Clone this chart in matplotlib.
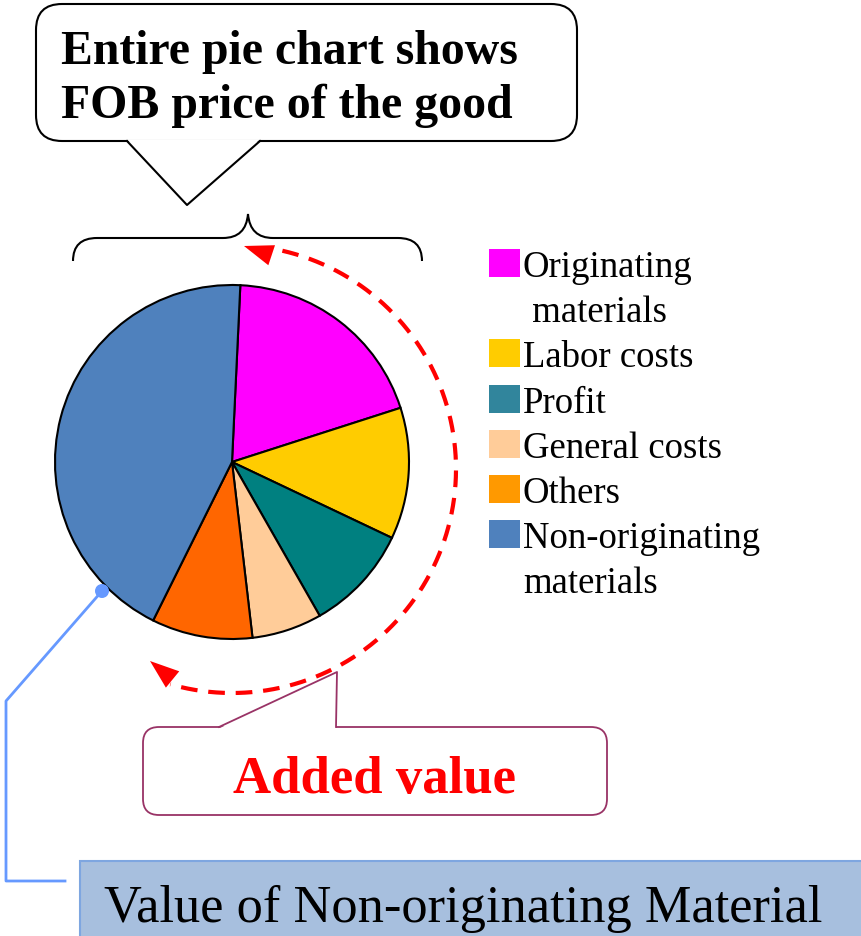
"""FOB price pie chart with added value callouts"""

import numpy as np
import matplotlib
matplotlib.use("Agg")
import matplotlib.pyplot as plt
from matplotlib.patches import FancyBboxPatch, Polygon, Rectangle, PathPatch, Circle
from matplotlib.path import Path

# datos (porcentaje del precio FOB)
labels = ["Originating\n materials", "Labor costs", "Profit", "General costs",
          "Others", "Non-originating\nmaterials"]
shares = [19.3, 12.0, 9.7, 6.4, 9.2, 43.4]
pie_colors = ["#FF00FF", "#FFCC00", "#008080", "#FFCC99", "#FF6600", "#4F81BD"]
legend_colors = ["#FF00FF", "#FFCC00", "#31859C", "#FFCC99", "#FF9900", "#4F81BD"]

W, H = 862, 937
SERIF = "Liberation Serif"

fig = plt.figure(figsize=(W / 100, H / 100), dpi=100)
ax = fig.add_axes([0, 0, 1, 1])

# y hacia abajo (coordenadas de pixel), por eso counterclock=True gira en sentido horario
ax.pie(shares, colors=pie_colors, startangle=-87.3, counterclock=True,
       center=(232, 463), radius=177, frame=True,
       wedgeprops=dict(edgecolor="black", linewidth=1.5))
ax.set_xlim(0, W)
ax.set_ylim(H, 0)
ax.set_aspect("auto")
ax.axis("off")

# leyenda
line = 0
for lab, col in zip(labels, legend_colors):
    base = 277 + 45.2 * line
    ax.add_patch(Rectangle((489, base - 27), 31, 28, facecolor=col, edgecolor="none"))
    for k, txt in enumerate(lab.split("\n")):
        ax.text(523, base + 45.2 * k, txt, fontsize=26.5, family=SERIF,
                va="baseline", ha="left")
    line += len(lab.split("\n"))

# globo superior
ax.add_patch(FancyBboxPatch((36, 5), 541, 137, boxstyle="round,pad=0,rounding_size=26",
                            facecolor="white", edgecolor="black", linewidth=1.5))
ax.add_patch(Polygon([(127, 140.5), (187, 206), (260, 140.5)], closed=True,
                     facecolor="white", edgecolor="none", zorder=3))
ax.plot([127, 187, 260], [142, 206, 142], color="black", lw=1.5, zorder=4)
ax.text(61, 64, "Entire pie chart shows", fontsize=34.4, fontweight="bold",
        family=SERIF, va="baseline")
ax.text(61, 118, "FOB price of the good", fontsize=34.4, fontweight="bold",
        family=SERIF, va="baseline")

# llave sobre el grafico
verts = [(73, 262), (73, 239), (97, 239), (223, 239), (246, 239), (248, 215),
         (250, 239), (273, 239), (398, 239), (422, 239), (422, 262)]
codes = [Path.MOVETO, Path.CURVE3, Path.CURVE3, Path.LINETO, Path.CURVE3, Path.CURVE3,
         Path.CURVE3, Path.CURVE3, Path.LINETO, Path.CURVE3, Path.CURVE3]
ax.add_patch(PathPatch(Path(verts, codes), facecolor="none", edgecolor="black", lw=1.5))

# arco rojo punteado (valor agregado)
th = np.radians(np.linspace(77, -106, 200))
ax.plot(232 + 224 * np.cos(th), 470 - 224 * np.sin(th), color="red", lw=3,
        dashes=(4, 2.6), zorder=5)
arrow = dict(arrowstyle="-|>,head_length=1.05,head_width=0.38", color="red",
             lw=0, mutation_scale=20, shrinkA=0, shrinkB=0)
ax.annotate("", xy=(244, 247), xytext=(274, 257), arrowprops=arrow, zorder=6)
ax.annotate("", xy=(150, 662), xytext=(172, 680), arrowprops=arrow, zorder=6)

# globo "Added value"
purple = "#993366"
ax.add_patch(FancyBboxPatch((143, 728), 464, 88, boxstyle="round,pad=0,rounding_size=16",
                            facecolor="white", edgecolor=purple, linewidth=1.3))
ax.add_patch(Polygon([(219, 729.5), (337, 673), (336, 729.5)], closed=True,
                     facecolor="white", edgecolor="none", zorder=3))
ax.plot([219, 337, 336], [728, 673, 728], color=purple, lw=1.3, zorder=4)
ax.text(233, 793, "Added value", fontsize=38, fontweight="bold", color="red",
        family=SERIF, va="baseline")

# conector azul y caja inferior
blue = "#6699FF"
ax.plot([102, 6, 6, 65], [592, 702, 882, 882], color=blue, lw=2, zorder=4)
ax.add_patch(Circle((102, 592), 7, facecolor=blue, edgecolor="none", zorder=5))
ax.add_patch(Rectangle((80, 862), 800, 90, facecolor="#A7BFDE", edgecolor="#7EA6E0", lw=1.5))
ax.text(104, 922, "Value of Non-originating Material", fontsize=37.7, family=SERIF,
        va="baseline")

fig.savefig("out.png", dpi=100)
